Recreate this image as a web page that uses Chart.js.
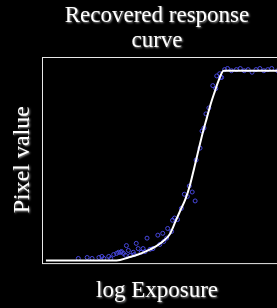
<!DOCTYPE html>
<html>
<head>
<meta charset="utf-8">
<script src="https://cdn.jsdelivr.net/npm/chart.js@4"></script>
<style>
html,body{margin:0;padding:0;background:#000;overflow:hidden;width:277px;height:308px;}
canvas{display:block;background:#000;}
</style>
</head>
<body>
<canvas id="c" width="314" height="308"></canvas>
<script>
// Recovered response curve (log exposure -> pixel value)
const curveX = [-7.8, -4.2, -3.6, -3.1, -2.6, -2.2, -1.85, -1.5, -1.2, -0.95, -0.7, -0.45, -0.25, -0.05, 0.2, 0.4, 0.6, 0.8, 1.0, 1.25, 5.6];
const curveY = [0, 0, 4, 8, 13.5, 19, 25.5, 35, 52.5, 67.5, 82, 102.5, 124, 146, 173, 192, 211, 227, 242, 255, 255];

// Sample points (log exposure, pixel value)
const sampleX = [-6.15, -5.7, -5.45, -5.1, -4.95, -4.6, -4.35, -4.2, -4.0, -3.85, -3.75, -4.1, -3.95, -3.7, -3.6, -3.35, -3.2, -3.1, -2.85, -2.65, -2.1, -1.85, -1.6, -1.35, -1.25, -0.75, -0.35, -0.2, 0.15, 0.35, 0.7, 0.9, 1.15,
  -4.85, -4.5, -3.5, -3.3, -2.95, -2.75, -2.5, -2.35, -2.0, -1.8, -1.65, -1.4, -1.1, -0.9, -0.6, -0.5, -0.15, 0.05, 0.25, 0.5, 0.85, 1.1, 1.05,
  1.3, 1.45, 1.65, 1.9, 2.1, 2.3, 2.5, 2.7, 2.9, 3.1, 3.3, 3.5, 3.7, 4.0, 4.4];
const sampleY = [2.7, 4, 2.7, 4, 5.4, 5.4, 8, 9.5, 11, 9.5, 7, 11, 12, 20, 13.5, 11, 23, 16, 16, 30, 34, 36.5, 43, 54, 57, 89, 92, 80, 174, 197, 235, 248, 246,
  2.7, 2.7, 6.75, 8, 11, 12, 15, 16, 21.5, 25.5, 30, 39, 55, 70, 86, 100, 135, 151, 178, 205, 231, 246, 251,
  256.5, 258, 255, 256.5, 258, 255, 256.5, 253, 256.5, 258, 255, 256.5, 258, 255, 256.5];

const titleLines = ['Recovered response', 'curve'];
const xLabel = 'log Exposure';
const yLabel = 'Pixel value';

const curveData = curveX.map((x, i) => ({x: x, y: curveY[i]}));
const sampleData = sampleX.map((x, i) => ({x: x, y: sampleY[i]}));

const glowPlugin = {
  id: 'glow',
  beforeDraw(chart) {
    const ctx = chart.ctx;
    ctx.shadowColor = 'rgba(170,170,170,0.9)';
    ctx.shadowBlur = 2;
    ctx.shadowOffsetX = 1;
    ctx.shadowOffsetY = 1;
  },
  beforeDatasetsDraw(chart) {
    const ctx = chart.ctx;
    ctx.shadowColor = 'rgba(0,0,0,0)';
    ctx.shadowBlur = 0;
    ctx.shadowOffsetX = 0;
    ctx.shadowOffsetY = 0;
    const a = chart.chartArea;
    ctx.save();
    ctx.strokeStyle = '#e8e8e8';
    ctx.lineWidth = 1;
    ctx.strokeRect(Math.round(a.left) + 0.5, Math.round(a.top) + 0.5, a.right - a.left, a.bottom - a.top);
    ctx.restore();
  }
};

const serif = 'Liberation Serif, Times New Roman, serif';

new Chart(document.getElementById('c'), {
  data: {
    datasets: [
      {
        type: 'line',
        data: curveData,
        borderColor: '#ffffff',
        borderWidth: 2,
        pointRadius: 0,
        fill: false,
        cubicInterpolationMode: 'monotone',
        order: 0
      },
      {
        type: 'scatter',
        data: sampleData,
        borderColor: '#4848e0',
        backgroundColor: 'rgba(0,0,0,0)',
        borderWidth: 1,
        pointRadius: 2,
        pointStyle: 'circle',
        order: 1
      }
    ]
  },
  options: {
    responsive: false,
    animation: false,
    events: [],
    layout: {padding: {left: 0, right: 0, top: 0, bottom: 0}},
    plugins: {
      legend: {display: false},
      tooltip: {enabled: false},
      title: {
        display: true,
        text: titleLines,
        color: '#ffffff',
        font: {family: serif, size: 23, weight: 'normal', lineHeight: 1.1},
        padding: {top: 3, bottom: 3}
      },
      subtitle: {
        display: true,
        position: 'bottom',
        text: xLabel,
        color: '#ffffff',
        font: {family: serif, size: 23, weight: 'normal', lineHeight: 1.1},
        padding: {top: 16, bottom: 4}
      }
    },
    scales: {
      x: {type: 'linear', min: -8, max: 5.6, display: false},
      y: {
        type: 'linear',
        min: -3,
        max: 274,
        ticks: {display: false},
        grid: {display: false, drawTicks: false},
        border: {display: false},
        title: {
          display: true,
          text: yLabel,
          color: '#ffffff',
          font: {family: serif, size: 24, weight: 'normal', lineHeight: 1.1},
          padding: {top: 10, bottom: 5.6}
        }
      }
    }
  },
  plugins: [glowPlugin]
});
</script>
</body>
</html>
